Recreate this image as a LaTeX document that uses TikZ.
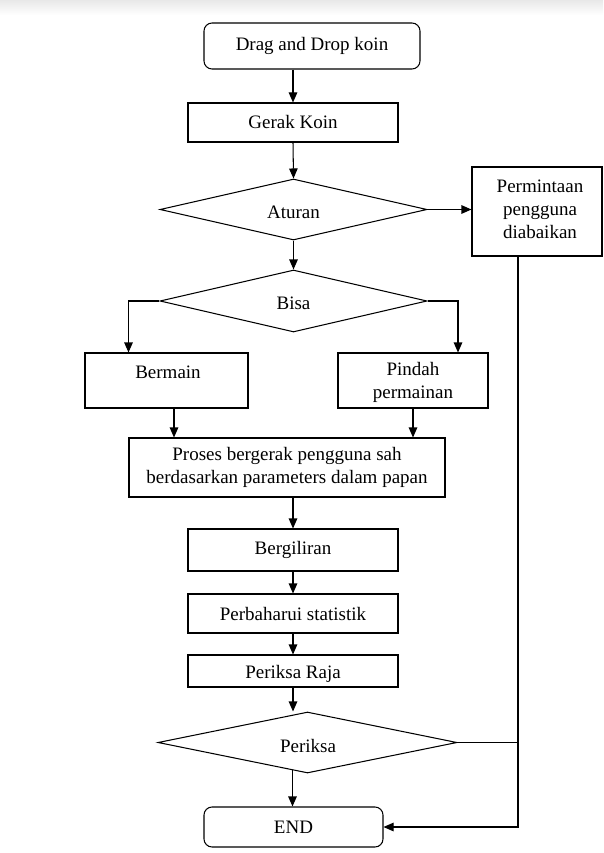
\documentclass[tikz,border=0pt]{standalone}
\usepackage{fontspec}
\setmainfont{Liberation Serif}
\usetikzlibrary{arrows.meta,shapes.geometric,calc}

\tikzset{
  txt/.style={font=\fontsize{19}{23}\selectfont},
  base/.style={draw, line width=1.05pt, inner sep=0pt, align=center, txt},
  procbox/.style={base, rectangle},
  termbox/.style={base, rectangle, rounded corners=8pt},
  decbox/.style={base, diamond},
  arr/.style={line width=1.05pt, -{Triangle[length=10pt,width=8.5pt]}},
  ln/.style={line width=1.05pt},
}

\begin{document}
\begin{tikzpicture}[x=1pt, y=-1pt]
  \useasboundingbox (0,0) rectangle (603,853);
  % faint page shadow along the top edge
  \shade[top color=gray!18, bottom color=white, draw=none] (0,0) rectangle (603,15);

  % main column
  \node[termbox, minimum width=216pt, minimum height=46pt] (start) at (312,46) {Drag and Drop koin};
  \node[procbox, minimum width=210pt, minimum height=39pt] (gerak) at (293,122.5) {Gerak Koin};
  \node[decbox, minimum width=267pt, minimum height=61pt] (aturan) at (293.5,209.5) {};
  \node[txt] (aturanlbl) at (293.5,212) {Aturan};
  \node[procbox, minimum width=130pt, minimum height=89pt] (perm) at (537,211.5) {};
  \node[txt, align=center] (permlbl) at (540,209) {Permintaan\\pengguna\\diabaikan};
  \node[decbox, minimum width=267pt, minimum height=62pt] (bisa) at (293.5,301) {};
  \node[txt] (bisalbl) at (293.5,303) {Bisa};

  % branches
  \node[procbox, minimum width=163pt, minimum height=55pt] (bermain) at (166.5,380.5) {};
  \node[txt] (bermainlbl) at (168,372) {Bermain};
  \node[procbox, minimum width=150pt, minimum height=55pt] (pindah) at (413,380.5) {};
  \node[txt, align=center] (pindahlbl) at (413,382.5) {Pindah\\permainan};

  \node[procbox, minimum width=316pt, minimum height=59pt] (proses) at (287,467.5)
    {Proses bergerak pengguna sah\\berdasarkan parameters dalam papan};
  \node[procbox, minimum width=210pt, minimum height=42pt] (giliran) at (293,550) {Bergiliran};
  \node[procbox, minimum width=210pt, minimum height=39pt] (stat) at (293,613.5) {Perbaharui statistik};
  \node[procbox, minimum width=210pt, minimum height=32pt] (raja) at (293,671) {};
  \node[txt] (rajalbl) at (293,673.5) {Periksa Raja};
  \node[decbox, minimum width=299pt, minimum height=61pt] (periksa) at (307.5,742.5) {};
  \node[txt] (periksalbl) at (308,746) {Periksa};
  \node[termbox, minimum width=179pt, minimum height=40pt] (end) at (293.5,827) {END};

  % connectors
  \draw[arr] (gerak.north |- start.south) -- (gerak.north);
  \draw[arr] (gerak.south) -- (aturan.north);
  \draw[arr] (aturan.east) -- (aturan.east -| perm.west);
  \draw[arr] (aturan.south) -- (bisa.north);
  \draw[arr] (bisa.west) -| ([xshift=-38pt]bermain.north);
  \draw[arr] (bisa.east) -| ([xshift=45pt]pindah.north);
  \draw[arr] ([xshift=7.5pt]bermain.south) -- ([xshift=7.5pt]bermain.south |- proses.north);
  \draw[arr] (pindah.south) -- (pindah.south |- proses.north);
  \draw[arr] (giliran.north |- proses.south) -- (giliran.north);
  \draw[arr] (giliran.south) -- (stat.north);
  \draw[arr] (stat.south) -- (raja.north);
  \draw[arr] (raja.south) -- (raja.south |- periksa.north);
  \coordinate (pbot) at ($(periksa.south)!0.1!(periksa.west)$);
  \draw[arr] (pbot) -- (pbot |- end.north);
  \coordinate (loop) at ([xshift=-19pt]perm.south);
  \draw[arr] (loop) |- (end.east);
  \draw[ln] (periksa.east) -- (periksa.east -| loop);
\end{tikzpicture}
\end{document}
